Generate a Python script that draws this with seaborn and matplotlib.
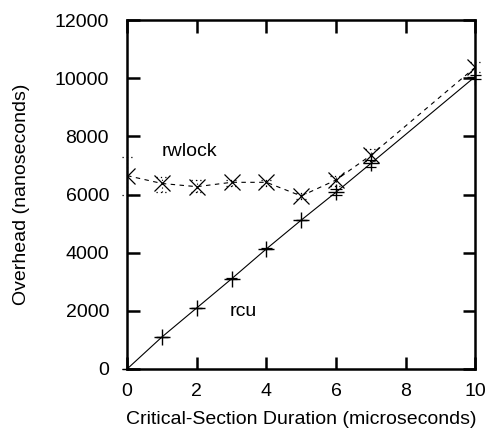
import numpy as np
import pandas as pd
import matplotlib
matplotlib.use("Agg")
import matplotlib.pyplot as plt
import seaborn as sns

# critical-section duration (microseconds)
duration = [0, 1, 2, 3, 4, 5, 6, 7, 10]

# overhead (nanoseconds)
rcu_mean = [0, 1100, 2100, 3100, 4130, 5120, 6080, 7070, 10060]
rcu_lo = [0, 1090, 2090, 3080, 4110, 5110, 5980, 6950, 9980]
rcu_hi = [0, 1110, 2110, 3130, 4150, 5130, 6200, 7200, 10100]

rwlock_mean = [6650, 6380, 6270, 6420, 6420, 5950, 6500, 7350, 10380]
rwlock_lo = [6000, 6100, 6100, 6300, 6300, 5850, 6300, 7150, 10200]
rwlock_hi = [7300, 6600, 6500, 6500, 6500, 6050, 6650, 7550, 10550]

sns.set_style("ticks", {"axes.edgecolor": "black", "text.color": "black",
                        "axes.labelcolor": "black", "xtick.color": "black",
                        "ytick.color": "black"})
plt.rcParams['font.family'] = ['Liberation Sans', 'DejaVu Sans']

df = pd.DataFrame({"dur": duration, "rcu": rcu_mean, "rwlock": rwlock_mean})

fig = plt.figure(figsize=(4.89, 4.28), dpi=100)
ax = fig.add_axes([0.26, 0.138, 0.712, 0.815])

sns.lineplot(data=df, x="dur", y="rcu", ax=ax, color="black", lw=0.8,
             marker="+", markersize=12, mew=1.0, mec="black", linestyle="-")
sns.lineplot(data=df, x="dur", y="rwlock", ax=ax, color="black", lw=0.8,
             marker="x", markersize=11, mew=0.9, mec="black",
             linestyle=(0, (4, 4)))

# error bars, drawn in the style of each series line
hw = 0.16
x = np.array(duration, dtype=float)
for lo, hi, ls in [(rcu_lo, rcu_hi, "-"), (rwlock_lo, rwlock_hi, (0, (1, 2.5)))]:
    ax.vlines(x, lo, hi, colors="black", linewidth=0.8, linestyles=ls,
              clip_on=False)
    ax.hlines(lo, x - hw, x + hw, colors="black", linewidth=0.9,
              linestyles=ls, clip_on=False)
    ax.hlines(hi, x - hw, x + hw, colors="black", linewidth=0.9,
              linestyles=ls, clip_on=False)

ax.text(1.0, 7490, "rwlock", fontsize=14, ha="left", va="center")
ax.text(2.95, 1960, "rcu", fontsize=14, ha="left", va="center")

ax.set_xlim(0, 10)
ax.set_ylim(0, 12000)
ax.set_xticks([0, 2, 4, 6, 8, 10])
ax.set_yticks(range(0, 12001, 2000))
ax.tick_params(direction="in", length=9, width=1.8, top=True, right=True,
               labelsize=14, colors="black")
ax.tick_params(axis="x", pad=10)
ax.tick_params(axis="y", pad=13)
for s in ax.spines.values():
    s.set_linewidth(1.8)
    s.set_color("black")
ax.set_xlabel("Critical-Section Duration (microseconds)", fontsize=14,
              labelpad=8, color="black")
ax.set_ylabel("Overhead (nanoseconds)", fontsize=14, labelpad=18,
              color="black")

fig.savefig("out.png", dpi=100)
